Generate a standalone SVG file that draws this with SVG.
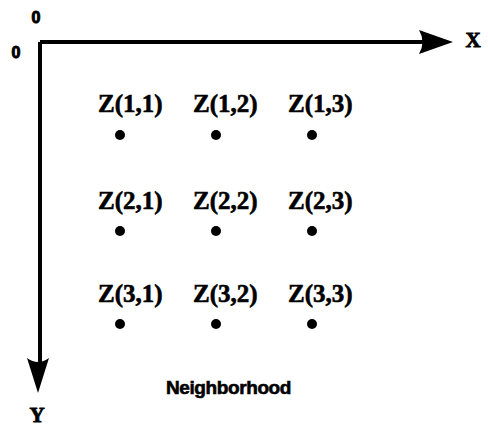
<svg xmlns="http://www.w3.org/2000/svg" width="488" height="435" viewBox="0 0 488 435">
<style>
.ax{stroke:#000;stroke-width:4;fill:none}
.head{fill:#000}
.z{font-family:"Liberation Serif",serif;font-weight:bold;font-size:25px;fill:#000;stroke:#000;stroke-width:0.6px}
.lbl{font-family:"Liberation Serif",serif;font-weight:bold;font-size:21px;fill:#000;stroke:#000;stroke-width:0.8px}
.zero{font-family:"Liberation Sans",Arial,sans-serif;font-weight:bold;font-size:16px;fill:#000;stroke:#000;stroke-width:1px}
.nb{font-family:"Liberation Sans",Arial,sans-serif;font-weight:bold;font-size:19px;fill:#000;stroke:#000;stroke-width:0.6px;letter-spacing:-0.4px}
.dot{fill:#000}
</style>
<g id="connectors">
<path class="ax" d="M40,42 H428"/>
<path class="head" d="M453,42 L419,30 Q426,42 419,54 Z"/>
<path class="ax" d="M40,42 V368"/>
<path class="head" d="M38,393 L27,358 Q38,366 49,358 Z"/>
</g>
<g id="axis-labels">
<text class="zero" x="36" y="23" text-anchor="middle">0</text>
<text class="zero" x="16" y="58" text-anchor="middle">0</text>
<text class="lbl" x="473" y="47" text-anchor="middle">X</text>
<text class="lbl" x="37" y="422" text-anchor="middle">Y</text>
</g>
<g id="z11"><text class="z" x="98" y="112">Z(1,1)</text><circle class="dot" cx="120" cy="135" r="5"/></g>
<g id="z12"><text class="z" x="193" y="112">Z(1,2)</text><circle class="dot" cx="216" cy="135" r="5"/></g>
<g id="z13"><text class="z" x="288" y="112">Z(1,3)</text><circle class="dot" cx="312" cy="135" r="5"/></g>
<g id="z21"><text class="z" x="98" y="209">Z(2,1)</text><circle class="dot" cx="120" cy="231" r="5"/></g>
<g id="z22"><text class="z" x="193" y="209">Z(2,2)</text><circle class="dot" cx="216" cy="231" r="5"/></g>
<g id="z23"><text class="z" x="288" y="209">Z(2,3)</text><circle class="dot" cx="312" cy="231" r="5"/></g>
<g id="z31"><text class="z" x="98" y="302">Z(3,1)</text><circle class="dot" cx="120" cy="324" r="5"/></g>
<g id="z32"><text class="z" x="193" y="302">Z(3,2)</text><circle class="dot" cx="216" cy="324" r="5"/></g>
<g id="z33"><text class="z" x="288" y="302">Z(3,3)</text><circle class="dot" cx="312" cy="324" r="5"/></g>
<g id="caption"><text class="nb" x="166" y="394">Neighborhood</text></g>
</svg>
